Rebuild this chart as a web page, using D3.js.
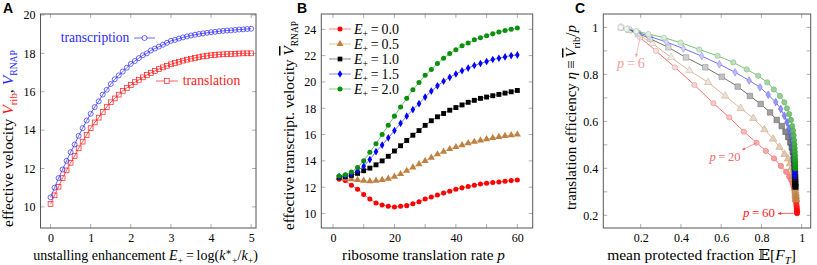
<!DOCTYPE html>
<html><head><meta charset="utf-8">
<script src="https://cdn.jsdelivr.net/npm/d3@7"></script>
<style>
body{margin:0;background:#fff}
text{font-family:"Liberation Serif","DejaVu Serif",serif}
</style>
</head><body>
<svg id="chart" width="817" height="265"></svg>
<script>
// ---------------- DATA ----------------
// Panel A
const unstallE = [0,0.1,0.2,0.3,0.4,0.5,0.6,0.7,0.8,0.9,1,1.1,1.2,1.3,1.4,1.5,1.6,1.7,1.8,1.9,2,2.1,2.2,2.3,2.4,2.5,2.6,2.7,2.8,2.9,3,3.1,3.2,3.3,3.4,3.5,3.6,3.7,3.8,3.9,4,4.1,4.2,4.3,4.4,4.5,4.6,4.7,4.8,4.9,5];
const transcriptionV = [10.5,11.0,11.5,11.95,12.4,12.85,13.25,13.7,14.1,14.5,14.85,15.2,15.5,15.85,16.1,16.4,16.65,16.85,17.05,17.25,17.45,17.6,17.75,17.9,18.0,18.15,18.25,18.35,18.45,18.55,18.65,18.7,18.77,18.83,18.88,18.93,18.97,19.01,19.04,19.07,19.1,19.12,19.15,19.17,19.19,19.2,19.22,19.24,19.25,19.27,19.28];
const translationV = [10.15,10.6,11.05,11.5,11.9,12.3,12.65,13.05,13.4,13.75,14.1,14.4,14.65,14.95,15.2,15.45,15.65,15.85,16.05,16.2,16.35,16.5,16.62,16.75,16.87,16.98,17.08,17.18,17.27,17.35,17.43,17.5,17.56,17.62,17.67,17.72,17.76,17.8,17.84,17.87,17.9,17.92,17.94,17.95,17.96,17.97,17.98,17.99,18.0,18.0,18.0];
const ticksAx = [0,1,2,3,4,5];
const ticksAy = [10,12,14,16,18,20];

// Panel B
const rateP = [2,4,6,8,10,12,14,16,18,20,22,24,26,28,30,32,34,36,38,40,42,44,46,48,50,52,54,56,58,60];
const seriesNames = ["0.0","0.5","1.0","1.5","2.0"];
const vE00 = [12.6,12.5,12.15,11.85,11.45,11.1,10.8,10.65,10.55,10.5,10.55,10.6,10.75,10.9,11.1,11.25,11.4,11.55,11.7,11.85,11.95,12.05,12.15,12.25,12.3,12.35,12.4,12.45,12.5,12.55];
const vE05 = [12.7,12.65,12.6,12.55,12.5,12.45,12.5,12.55,12.65,12.8,13.0,13.25,13.5,13.75,14.0,14.25,14.5,14.7,14.9,15.05,15.2,15.35,15.45,15.55,15.65,15.75,15.82,15.9,15.95,16.0];
const vE10 = [12.75,12.8,12.9,13.05,13.25,13.45,13.7,14.0,14.35,14.75,15.15,15.55,15.95,16.3,16.7,17.05,17.35,17.6,17.85,18.05,18.25,18.45,18.6,18.75,18.85,18.95,19.05,19.15,19.25,19.35];
const vE15 = [12.8,12.85,13.0,13.25,13.6,14.1,14.7,15.2,15.75,16.3,16.85,17.4,17.9,18.35,18.85,19.3,19.7,20.05,20.35,20.6,20.85,21.05,21.25,21.4,21.55,21.7,21.8,21.9,22.0,22.05];
const vE20 = [12.85,12.95,13.15,13.5,14.0,14.65,15.3,16.0,16.7,17.4,18.1,18.75,19.4,19.95,20.5,20.95,21.4,21.8,22.15,22.45,22.75,22.95,23.2,23.35,23.5,23.65,23.8,23.9,24.0,24.1];
const ticksBx = [0,20,40,60];
const ticksBxMinor = [0,10,20,30,40,50,60];
const ticksBy = [10,12,14,16,18,20,22,24];

// Panel C: mean protected fraction (x) and efficiency (y) for p = 2..60
const fracE00 = [0.103,0.152,0.197,0.276,0.370,0.467,0.561,0.640,0.713,0.776,0.822,0.863,0.897,0.923,0.938,0.948,0.955,0.960,0.964,0.967,0.969,0.971,0.972,0.973,0.974,0.975,0.976,0.976,0.977,0.977];
const effE00  = [0.998,0.986,0.957,0.900,0.830,0.755,0.677,0.617,0.556,0.509,0.474,0.442,0.410,0.385,0.365,0.350,0.335,0.321,0.308,0.296,0.285,0.274,0.264,0.255,0.246,0.238,0.230,0.222,0.216,0.209];
const fracE05 = [0.102,0.145,0.190,0.258,0.351,0.442,0.535,0.620,0.697,0.760,0.815,0.858,0.890,0.915,0.932,0.942,0.950,0.955,0.959,0.962,0.964,0.966,0.967,0.968,0.969,0.970,0.970,0.971,0.971,0.972];
const effE05  = [0.999,0.988,0.968,0.932,0.872,0.816,0.766,0.708,0.655,0.613,0.565,0.525,0.490,0.460,0.440,0.420,0.403,0.387,0.372,0.358,0.346,0.334,0.323,0.313,0.303,0.294,0.286,0.279,0.272,0.266];
const fracE10 = [0.102,0.140,0.185,0.246,0.337,0.425,0.521,0.603,0.682,0.743,0.796,0.843,0.876,0.901,0.920,0.934,0.944,0.951,0.956,0.960,0.962,0.964,0.965,0.966,0.967,0.967,0.968,0.968,0.968,0.969];
const effE10  = [0.999,0.990,0.975,0.952,0.915,0.872,0.830,0.790,0.748,0.708,0.674,0.638,0.606,0.580,0.555,0.533,0.510,0.489,0.470,0.451,0.435,0.419,0.404,0.391,0.377,0.364,0.353,0.342,0.332,0.322];
const fracE15 = [0.101,0.135,0.180,0.242,0.327,0.412,0.503,0.591,0.669,0.739,0.793,0.834,0.871,0.896,0.914,0.927,0.937,0.944,0.950,0.954,0.957,0.959,0.961,0.962,0.963,0.964,0.965,0.965,0.966,0.966];
const effE15  = [1.000,0.992,0.980,0.962,0.938,0.910,0.878,0.843,0.809,0.774,0.745,0.713,0.682,0.653,0.624,0.596,0.570,0.550,0.534,0.515,0.497,0.478,0.462,0.446,0.431,0.417,0.404,0.391,0.379,0.368];
const fracE20 = [0.101,0.130,0.177,0.238,0.316,0.399,0.491,0.582,0.660,0.727,0.784,0.829,0.862,0.892,0.914,0.927,0.938,0.947,0.953,0.957,0.960,0.962,0.964,0.965,0.966,0.967,0.967,0.968,0.968,0.968];
const effE20  = [1.000,0.994,0.984,0.972,0.956,0.935,0.906,0.879,0.851,0.821,0.794,0.766,0.736,0.708,0.681,0.655,0.631,0.606,0.580,0.560,0.540,0.520,0.502,0.486,0.470,0.455,0.440,0.427,0.414,0.400];
const ticksCx = [0.2,0.4,0.6,0.8,1];
const ticksCy = [0.2,0.4,0.6,0.8,1];
const ticksCyMinor = [0.2,0.3,0.4,0.5,0.6,0.7,0.8,0.9,1];

// ---------------- STYLE ----------------
const colors = ["#ff0000","#bf8040","#000000","#0000ff","#0a900a"];
const svg = d3.select("#chart");
const TOP = 14, BOT = 228;
const SERIF = "'Liberation Serif', 'DejaVu Serif', serif";

function rich(sel, parts){
  let shift = 0;
  parts.forEach(([t,o]) => {
    o = o || {};
    const target = o.sub ? 0.28 : (o.sup ? -0.35 : 0);
    const ts = sel.append("tspan").text(t);
    if (o.s) ts.attr("font-size", o.s + "em");
    ts.attr("dy", (target - shift) + "em");
    shift = target;
    if (o.i) ts.attr("font-style","italic");
    if (o.c) ts.attr("fill", o.c);
    if (o.dx) ts.attr("dx", o.dx + "em");
    if (o.ol) ts.style("text-decoration","overline");
  });
  const fs = +sel.attr("font-size");
  sel.selectAll("tspan").each(function(){
    const t = d3.select(this);
    t.attr("dy", parseFloat(t.attr("dy")) * fs);
    if (t.attr("dx")) t.attr("dx", parseFloat(t.attr("dx")) * fs);
  });
}
// scale a text so it spans the target width (font metrics differ from the original)
function fit(sel, w){
  const L = sel.node().getComputedTextLength();
  const fs = +sel.attr("font-size");
  const k = w / L;
  sel.attr("font-size", fs * k);
  sel.selectAll("tspan").each(function(){
    const t = d3.select(this);
    if (t.attr("dy")) t.attr("dy", parseFloat(t.attr("dy")) * k);
    if (t.attr("dx")) t.attr("dx", parseFloat(t.attr("dx")) * k);
  });
}

function frame(g, x, y, xt, yt, xtMinor, ytMinor, fmtX, fmtY){
  const [x0,x1] = x.range(), [y0,y1] = y.range();
  const tickCol = "#999";
  const allX = xtMinor || xt, allY = ytMinor || yt;
  allX.forEach(v => {
    g.append("line").attr("x1",x(v)).attr("x2",x(v)).attr("y1",y0).attr("y2",y0-4).attr("stroke",tickCol).attr("stroke-width",0.8);
    g.append("line").attr("x1",x(v)).attr("x2",x(v)).attr("y1",y1).attr("y2",y1+4).attr("stroke",tickCol).attr("stroke-width",0.8);
  });
  allY.forEach(v => {
    g.append("line").attr("y1",y(v)).attr("y2",y(v)).attr("x1",x0).attr("x2",x0+4).attr("stroke",tickCol).attr("stroke-width",0.8);
    g.append("line").attr("y1",y(v)).attr("y2",y(v)).attr("x1",x1).attr("x2",x1-4).attr("stroke",tickCol).attr("stroke-width",0.8);
  });
  const ax = d3.axisBottom(x).tickValues(xt).tickSize(0).tickPadding(5).tickFormat(fmtX);
  const gx = g.append("g").attr("transform",`translate(0,${y0})`).call(ax);
  gx.attr("font-family", SERIF).attr("font-size", 12);
  gx.select(".domain").remove();
  const ay = d3.axisLeft(y).tickValues(yt).tickSize(0).tickPadding(5).tickFormat(fmtY);
  const gy = g.append("g").attr("transform",`translate(${x0},0)`).call(ay);
  gy.attr("font-family", SERIF).attr("font-size", 12);
  gy.select(".domain").remove();
  g.append("rect").attr("x",x0).attr("y",y1).attr("width",x1-x0).attr("height",y0-y1)
    .attr("fill","none").attr("stroke","#555").attr("stroke-width",1);
}

function label(g, parts, cx, cy, width, rotate, color){
  const t = g.append("text").attr("font-size", 13).attr("text-anchor","middle")
    .attr("transform", rotate ? `translate(${cx},${cy}) rotate(-90)` : `translate(${cx},${cy})`);
  if (color) t.attr("fill", color);
  rich(t, parts);
  fit(t, width);
  return t;
}

const diamondType = { draw(ctx, size){ const w = Math.sqrt(size)*0.42, h = Math.sqrt(size)*0.7;
  ctx.moveTo(0,-h); ctx.lineTo(w,0); ctx.lineTo(0,h); ctx.lineTo(-w,0); ctx.closePath(); } };
const symTypes = [d3.symbolCircle, d3.symbolTriangle, d3.symbolSquare, diamondType, d3.symbolCircle];
const symSizes = [20, 22, 22, 30, 20];

// panel letters
[["A",3],["B",297],["C",575]].forEach(([t,x]) => svg.append("text").text(t).attr("x",x).attr("y",13)
  .style("font-family","'Liberation Sans', Arial, sans-serif").attr("font-weight","bold").attr("font-size",14));

// ---------------- PANEL A ----------------
{
  const g = svg.append("g");
  const x = d3.scaleLinear().domain([-0.25,5.12]).range([40.5,256]);
  const y = d3.scaleLinear().domain([8.9,20.05]).range([BOT,TOP]);
  frame(g, x, y, ticksAx, ticksAy, null, null, d3.format("d"), d3.format("d"));
  const blue = "#2a2aff", red = "#ff1a1a";
  const line = d3.line().x(d => x(d[0])).y(d => y(d[1]));
  const tr = unstallE.map((e,i) => [e, transcriptionV[i]]);
  const tl = unstallE.map((e,i) => [e, translationV[i]]);
  g.append("path").attr("d",line(tl)).attr("fill","none").attr("stroke",red).attr("stroke-width",0.7);
  g.selectAll(".sq").data(tl).join("rect").attr("x",d=>x(d[0])-2.4).attr("y",d=>y(d[1])-2.4)
    .attr("width",4.8).attr("height",4.8).attr("fill","none").attr("stroke",red).attr("stroke-width",0.7);
  g.append("path").attr("d",line(tr)).attr("fill","none").attr("stroke",blue).attr("stroke-width",0.7);
  g.selectAll(".ci").data(tr).join("circle").attr("cx",d=>x(d[0])).attr("cy",d=>y(d[1])).attr("r",2.5)
    .attr("fill","none").attr("stroke",blue).attr("stroke-width",0.7);
  // curve labels
  label(g, [["transcription"]], 95, 42, 68.5, false, blue);
  g.append("line").attr("x1",134).attr("x2",155).attr("y1",38).attr("y2",38).attr("stroke",blue).attr("stroke-width",0.7);
  g.append("circle").attr("cx",144.5).attr("cy",38).attr("r",2.5).attr("fill","white").attr("stroke",blue).attr("stroke-width",0.7);
  g.append("line").attr("x1",156).attr("x2",178).attr("y1",81).attr("y2",81).attr("stroke",red).attr("stroke-width",0.7);
  g.append("rect").attr("x",164.3).attr("y",78.6).attr("width",4.8).attr("height",4.8).attr("fill","white").attr("stroke",red).attr("stroke-width",0.7);
  label(g, [["translation"]], 211.5, 85, 57.5, false, red);
  // axis labels
  label(g, [["unstalling enhancement "],["E",{i:1}],["+",{sub:1,s:0.7}],["\u2009=\u2009log(",{}],["k",{i:1}],["\u2217",{sup:1,s:0.7}],["+",{sub:1,s:0.7}],["/",{}],["k",{i:1}],["+",{sub:1,s:0.7}],[")"]], 145.5, 260, 225, false);
  label(g, [["effective velocity "],["V",{i:1,c:red,ol:1}],["rib",{sub:1,s:0.7,c:red}],[", "],["V",{i:1,c:blue,ol:1}],["RNAP",{sub:1,s:0.62,c:blue}]], 13, 138.5, 177, true);
}

// ---------------- PANEL B ----------------
{
  const g = svg.append("g");
  const x = d3.scaleLinear().domain([-3.8,65]).range([321.3,532.7]);
  const y = d3.scaleLinear().domain([8.9,25.16]).range([BOT,TOP]);
  frame(g, x, y, ticksBx, ticksBy, ticksBxMinor, null, d3.format("d"), d3.format("d"));
  const all = [vE00, vE05, vE10, vE15, vE20];
  const line = d3.line().x(d => x(d[0])).y(d => y(d[1]));
  all.forEach((vals, k) => {
    const pts = rateP.map((p,i) => [p, vals[i]]);
    g.append("path").attr("d",line(pts)).attr("fill","none").attr("stroke",colors[k]).attr("stroke-width",0.8).attr("stroke-opacity",0.7);
    g.selectAll(null).data(pts).join("path")
      .attr("d", d3.symbol().type(symTypes[k]).size(k===2?24:symSizes[k]))
      .attr("transform", d => `translate(${x(d[0])},${y(d[1])})`)
      .attr("fill", colors[k]);
  });
  // legend
  seriesNames.forEach((nm, k) => {
    const ly = 29 + k*15;
    g.append("line").attr("x1",329).attr("x2",351).attr("y1",ly).attr("y2",ly).attr("stroke",colors[k]).attr("stroke-width",0.8).attr("stroke-opacity",0.6);
    g.append("path").attr("d", d3.symbol().type(symTypes[k]).size(symSizes[k])).attr("transform",`translate(340,${ly})`).attr("fill",colors[k]);
    const t = g.append("text").attr("x",354).attr("y",ly+4.5).attr("font-size",13.5);
    rich(t, [["E",{i:1}],["+",{sub:1,s:0.7}],["\u2009=\u2009"+nm,{}]]);
    fit(t, 45);
  });
  label(g, [["ribosome translation rate "],["p",{i:1}]], 423.5, 260, 163, false);
  label(g, [["effective transcript. velocity "],["V",{i:1,ol:1}],["RNAP",{sub:1,s:0.62}]], 294, 125.5, 209, true);
}

// ---------------- PANEL C ----------------
{
  const g = svg.append("g");
  const x = d3.scaleLinear().domain([0.014,1.045]).range([603.3,810.7]);
  const y = d3.scaleLinear().domain([0.146,1.057]).range([BOT,TOP]);
  frame(g, x, y, ticksCx, ticksCy, null, ticksCyMinor, d3.format(".1~f"), d3.format(".1~f"));
  const fr = [fracE00, fracE05, fracE10, fracE15, fracE20];
  const ef = [effE00, effE05, effE10, effE15, effE20];
  const line = d3.line().x(d => x(d[0])).y(d => y(d[1]));
  const cSizes = [22, 24, 30, 30, 22];
  fr.forEach((xs, k) => {
    const pts = rateP.map((p,i) => [xs[i], ef[k][i], p]);
    g.append("path").attr("d",line(pts)).attr("fill","none").attr("stroke",colors[k]).attr("stroke-width",0.7).attr("stroke-opacity",0.8);
    g.selectAll(null).data(pts).join("path")
      .attr("d", d3.symbol().type(symTypes[k]).size(cSizes[k]))
      .attr("transform", d => `translate(${x(d[0])},${y(d[1])})`)
      .attr("fill", d => d3.interpolateRgb("#ffffff", colors[k])(Math.pow(d[2]/60, 1.1)*0.95+0.02))
      .attr("stroke", d => d3.interpolateRgb("#c8c8c8", colors[k])(d[2]/60))
      .attr("stroke-width",0.6);
  });
  // annotations
  const ann = (px, py, tx, ty, lx, ly, txt, col, w) => {
    g.append("line").attr("x1",x(px)).attr("y1",y(py)).attr("x2",tx).attr("y2",ty).attr("stroke",col).attr("stroke-width",0.7);
    const ang = Math.atan2(ty - y(py), tx - x(px));
    const ah = 3.5;
    g.append("path").attr("d",`M${tx},${ty} L${tx-ah*Math.cos(ang-0.45)},${ty-ah*Math.sin(ang-0.45)} L${tx-ah*Math.cos(ang+0.45)},${ty-ah*Math.sin(ang+0.45)} Z`).attr("fill",col);
    label(g, [["p",{i:1}],["\u2009=\u2009"+txt]], lx, ly, w, false, col);
  };
  ann(fracE00[2], effE00[2], 636, 57, 631, 68, "6", "#f4a0a0", 28);
  ann(fracE00[9], effE00[9], 742, 150, 725, 161, "20", "#f06a6a", 31);
  ann(fracE00[29], effE00[29], 778, 213.5, 759, 217, "60", "#ff2020", 32);
  label(g, [["mean protected fraction "],["\uD835\uDD3C",{}],["[",{}],["F",{i:1}],["T",{sub:1,s:0.7,i:1}],["]",{}]], 701.5, 260, 189, false);
  label(g, [["translation efficiency "],["\u03B7",{i:1}],["\u2009\u2261\u2009"],["V",{i:1,ol:1}],["rib",{sub:1,s:0.7}],["/",{}],["p",{i:1}]], 576, 117.5, 185, true);
}
</script>
</body></html>
